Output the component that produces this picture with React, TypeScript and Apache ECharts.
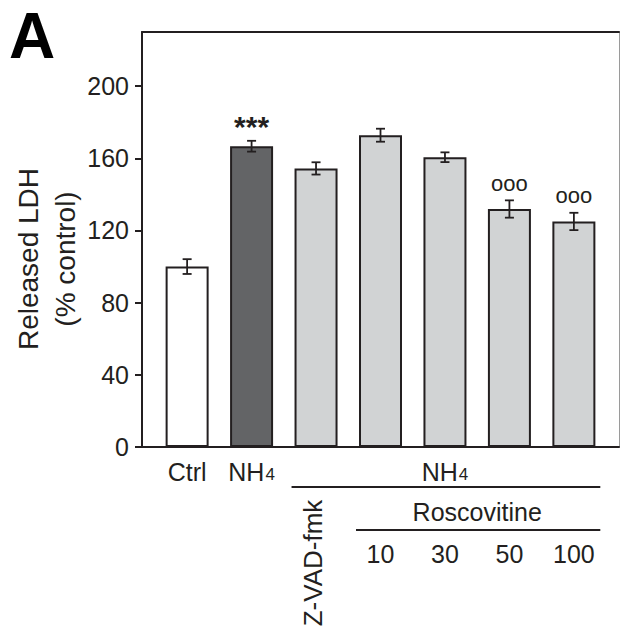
import React, { useEffect, useRef } from "react";
import * as echarts from "echarts";

// ---- data ----
const categories = ["Ctrl", "NH4", "Z-VAD-fmk", "10", "30", "50", "100"];
const means = [100, 166.7, 154.4, 172.8, 160.6, 131.9, 125.0];
const errors = [4.1, 3.0, 3.4, 3.6, 2.7, 4.8, 4.8];
const marks = ["", "***", "", "", "", "ooo", "ooo"];
const yTicks = [0, 40, 80, 120, 160, 200];
const groupLabels = ["NH4", "Roscovitine"];
const groupFrom = [2, 3];
const groupTo = [6, 6];

// ---- styles ----
const FONT = "'Liberation Sans', Arial, Helvetica, sans-serif";
const INK = "#231f20";
const fills = ["#ffffff", "#636466", "#d1d3d4", "#d1d3d4", "#d1d3d4", "#d1d3d4", "#d1d3d4"];
const groupLabelDy = [23, 63];
const groupLineDy = [40, 83];

function richText(t: string) {
  if (t === "NH4") return "{a|NH}{b|4}";
  return "{a|" + t + "}";
}
const rich = {
  a: { fontSize: 25, fontFamily: FONT, color: INK, lineHeight: 28, verticalAlign: "bottom" },
  b: { fontSize: 17, fontFamily: FONT, color: INK, lineHeight: 28, verticalAlign: "bottom", padding: [0, 0, 1, 1] },
};

export default function App() {
  const ref = useRef<HTMLDivElement>(null);
  useEffect(() => {
    if (!ref.current) return;
    const chart = echarts.init(ref.current, null, { renderer: "svg" });
    const option: any = {
      animation: false,
      grid: { left: 142, right: 2, top: 32, bottom: 186, containLabel: false },
      xAxis: [
        {
          type: "value", min: -0.7, max: 6.7, position: "bottom",
          axisLine: { show: true, onZero: false, lineStyle: { color: INK, width: 2 } },
          axisTick: { show: false }, axisLabel: { show: false }, splitLine: { show: false },
        },
        {
          type: "value", min: -0.7, max: 6.7, position: "top",
          axisLine: { show: true, onZero: false, lineStyle: { color: INK, width: 2 } },
          axisTick: { show: false }, axisLabel: { show: false }, splitLine: { show: false },
        },
      ],
      yAxis: [
        {
          type: "value", min: 0, max: 230, interval: 40, position: "left",
          axisLine: { show: true, onZero: false, lineStyle: { color: INK, width: 2 } },
          axisTick: { show: true, length: 7, lineStyle: { color: INK, width: 2 }, customValues: yTicks },
          axisLabel: {
            show: true, margin: 13, fontSize: 25, fontFamily: FONT, color: INK, customValues: yTicks,
            formatter: (v: number) => (yTicks.indexOf(v) >= 0 ? String(v) : ""),
          },
          splitLine: { show: false },
        },
        {
          type: "value", min: 0, max: 230, position: "right",
          axisLine: { show: true, onZero: false, lineStyle: { color: "#9a9a9a", width: 1 } },
          axisTick: { show: false }, axisLabel: { show: false }, splitLine: { show: false },
        },
      ],
      graphic: [
        {
          type: "text", x: 9, y: 68,
          style: { text: "A", fontSize: 64, fontWeight: "bold", fontFamily: FONT, fill: "#000", verticalAlign: "bottom", align: "left" },
        },
        {
          type: "text", x: 46.5, y: 259, rotation: Math.PI / 2,
          style: {
            text: "Released LDH\n(% control)", fontSize: 28, lineHeight: 37, fontFamily: FONT, fill: INK,
            align: "center", verticalAlign: "middle",
          },
        },
      ],
      series: [
        {
          type: "bar", xAxisIndex: 0, yAxisIndex: 0, barWidth: 43,
          data: means.map((m, i) => ({ value: [i, m], itemStyle: { color: fills[i] } })),
          itemStyle: { borderColor: INK, borderWidth: 2 },
          z: 2,
        },
        {
          type: "custom", xAxisIndex: 0, yAxisIndex: 0, z: 5,
          data: means.map((m, i) => [i, m, errors[i]]),
          encode: { x: 0, y: 1 },
          renderItem: (params: any, api: any) => {
            const i = api.value(0), m = api.value(1), e = api.value(2);
            const top = api.coord([i, m + e]);
            const bot = api.coord([i, m - e]);
            const hw = 4.5;
            const ls = { stroke: INK, lineWidth: 1.8 };
            const children: any[] = [
              { type: "line", shape: { x1: top[0], y1: top[1], x2: bot[0], y2: bot[1] }, style: ls },
              { type: "line", shape: { x1: top[0] - hw, y1: top[1], x2: top[0] + hw, y2: top[1] }, style: ls },
              { type: "line", shape: { x1: bot[0] - hw, y1: bot[1], x2: bot[0] + hw, y2: bot[1] }, style: ls },
            ];
            const mk = marks[params.dataIndex];
            if (mk) {
              const bold = mk === "***";
              children.push({
                type: "text", x: top[0], y: top[1] - (bold ? 14 : 17),
                style: {
                  text: mk, fontSize: bold ? 30 : 22, fontWeight: bold ? "bold" : "normal",
                  fontFamily: FONT, fill: INK, align: "center", verticalAlign: "middle",
                },
              });
            }
            return { type: "group", children };
          },
        },
        {
          // category labels under the axis
          type: "custom", xAxisIndex: 0, yAxisIndex: 0, z: 5,
          data: categories.map((c, i) => [i, 0]),
          encode: { x: 0, y: 1 },
          renderItem: (params: any, api: any) => {
            const i = params.dataIndex;
            const p = api.coord([api.value(0), 0]);
            const label = categories[i];
            if (i === 2) {
              return {
                type: "text", x: p[0] - 3, y: p[1] + 116, rotation: Math.PI / 2,
                style: { text: label, fontSize: 26, fontFamily: FONT, fill: INK, align: "center", verticalAlign: "middle" },
              };
            }
            const dy = i < 2 ? 23 : 105;
            return {
              type: "text", x: p[0], y: p[1] + dy,
              style: { text: richText(label), rich, fill: INK, align: "center", verticalAlign: "middle" },
            };
          },
        },
        {
          // group brackets
          type: "custom", xAxisIndex: 0, yAxisIndex: 0, z: 5,
          data: groupLabels.map((g, k) => [groupFrom[k], groupTo[k], 0]),
          encode: { x: [0, 1], y: 2 },
          renderItem: (params: any, api: any) => {
            const k = params.dataIndex;
            const a = api.coord([api.value(0), 0]);
            const b = api.coord([api.value(1), 0]);
            const band = api.size([1, 0])[0];
            const x1 = a[0] - 0.38 * band;
            const x2 = b[0] + 0.41 * band;
            return {
              type: "group",
              children: [
                {
                  type: "line",
                  shape: { x1, y1: a[1] + groupLineDy[k], x2, y2: a[1] + groupLineDy[k] },
                  style: { stroke: INK, lineWidth: 2 },
                },
                {
                  type: "text", x: (a[0] + b[0]) / 2, y: a[1] + groupLabelDy[k],
                  style: { text: richText(groupLabels[k]), rich, fill: INK, align: "center", verticalAlign: "middle" },
                },
              ],
            };
          },
        },
      ],
    };
    chart.setOption(option);
    return () => chart.dispose();
  }, []);
  return <div ref={ref} style={{ position: "absolute", left: 0, top: 0, width: 621, height: 633 }} />;
}
